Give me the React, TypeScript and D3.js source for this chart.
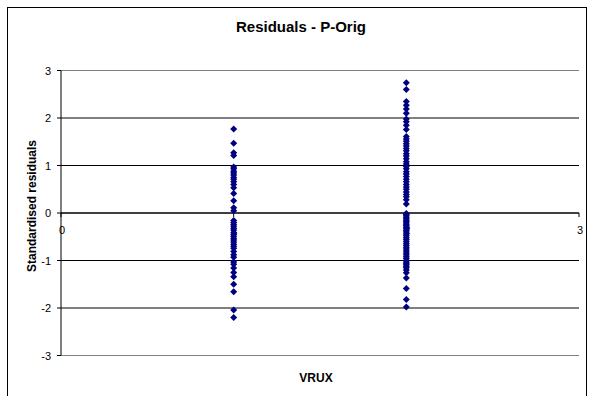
import React from "react";
import * as d3 from "d3";

const chartTitle = "Residuals - P-Orig";
const xAxisTitle = "VRUX";
const yAxisTitle = "Standardised residuals";
const xTicks = [0, 1, 2, 3];
const yTicks = [-3, -2, -1, 0, 1, 2, 3];

const group1X = 1;
const group1Values = [
  1.77, 1.47, 1.27, 1.21, 0.97, 0.93, 0.88, 0.84, 0.8, 0.75, 0.71, 0.66, 0.6, 0.53, 0.41, 0.26, 0.11, 0.05,
  -0.16, -0.2, -0.24, -0.28, -0.32, -0.36, -0.41, -0.45, -0.49, -0.53, -0.57, -0.61, -0.66, -0.7, -0.74,
  -0.81, -0.88, -0.93, -1.03, -1.08, -1.16, -1.25, -1.34, -1.5, -1.66, -2.04, -2.2,
];

const group2X = 2;
const group2Values = [
  2.74, 2.6, 2.35, 2.27, 2.19, 2.1, 1.98, 1.92, 1.85, 1.76, 1.61, 1.56, 1.51, 1.46, 1.41, 1.36, 1.31, 1.25,
  1.2, 1.14, 1.08, 1.03, 0.98, 0.93, 0.87, 0.82, 0.77, 0.71, 0.66, 0.6, 0.55, 0.5, 0.44, 0.39, 0.34, 0.28,
  0.19, -0.01, -0.03, -0.06, -0.09, -0.12, -0.15, -0.18, -0.21, -0.24, -0.27, -0.3, -0.33, -0.37, -0.4,
  -0.44, -0.48, -0.52, -0.56, -0.6, -0.64, -0.68, -0.72, -0.76, -0.8, -0.84, -0.88, -0.92, -0.96, -1.0,
  -1.03, -1.06, -1.09, -1.12, -1.15, -1.2, -1.26, -1.37, -1.59, -1.82, -1.98,
];

const W = 591;
const H = 396;
const plot = { left: 61, right: 579, top: 70.5, bottom: 355.5 };
const font = "'Liberation Sans', Arial, sans-serif";
const markerColor = "#000080";

export default function App() {
  const x = d3.scaleLinear().domain([0, 3]).range([plot.left, plot.right]);
  const y = d3.scaleLinear().domain([-3, 3]).range([plot.bottom, plot.top]);
  const r = 3.5;
  const diamond = `M0,${-r}L${r},0L0,${r}L${-r},0Z`;

  const points = [
    ...group1Values.map((v) => ({ x: group1X, y: v })),
    ...group2Values.map((v) => ({ x: group2X, y: v })),
  ];

  return (
    <svg
      width={W}
      height={H}
      style={{ position: "absolute", left: 0, top: 0, background: "#fff" }}
      fontFamily={font}
    >
      <rect x={7.5} y={7.5} width={579} height={400} fill="#fff" stroke="#000" strokeWidth={1} />
      <text x={301} y={32} textAnchor="middle" fontSize={15} fontWeight="bold">
        {chartTitle}
      </text>

      {yTicks.map((t) => (
        <g key={"g" + t}>
          <line
            x1={plot.left}
            x2={plot.right}
            y1={y(t)}
            y2={y(t)}
            stroke={t === 3 || t === -3 ? "#808080" : "#000"}
            strokeWidth={1}
          />
          <line x1={plot.left - 4} x2={plot.left} y1={y(t)} y2={y(t)} stroke="#000" />
          <text x={51} y={y(t) + 4} textAnchor="end" fontSize={11}>
            {t}
          </text>
        </g>
      ))}
      <line x1={plot.left} x2={plot.left} y1={y(3)} y2={y(-3)} stroke="#000" />
      <line x1={plot.left} x2={plot.right} y1={y(0)} y2={y(0)} stroke="#000" />
      {xTicks.map((t) => (
        <g key={"x" + t}>
          <line x1={x(t)} x2={x(t)} y1={y(0)} y2={y(0) + 4} stroke="#000" />
          <text x={x(t) + 1} y={y(0) + 21} textAnchor="middle" fontSize={11}>
            {t}
          </text>
        </g>
      ))}

      {points.map((p, i) => (
        <path key={i} d={diamond} transform={`translate(${x(p.x)},${y(p.y)})`} fill={markerColor} />
      ))}

      <text
        transform={`translate(36,206) rotate(-90)`}
        textAnchor="middle"
        fontSize={12}
        fontWeight="bold"
      >
        {yAxisTitle}
      </text>
      <text x={316} y={382} textAnchor="middle" fontSize={12} fontWeight="bold">
        {xAxisTitle}
      </text>
    </svg>
  );
}
